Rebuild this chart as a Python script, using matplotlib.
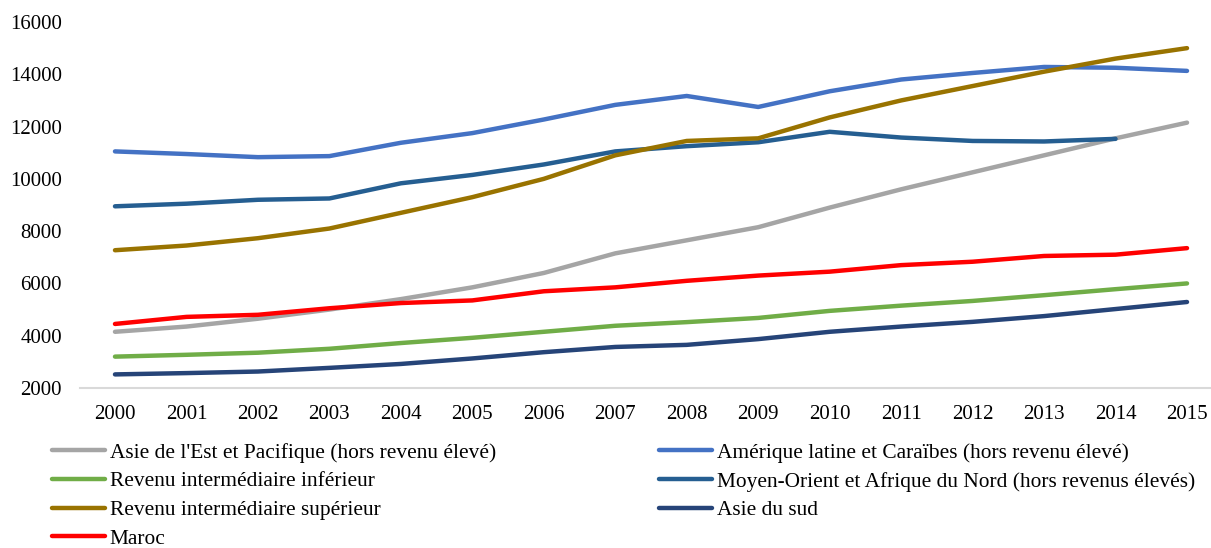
import matplotlib
matplotlib.use("Agg")
import matplotlib.pyplot as plt
from matplotlib.lines import Line2D
import numpy as np

years = list(range(2000, 2016))

asie_est = [4150, 4350, 4650, 5000, 5400, 5850, 6400, 7150, 7650, 8150, 8900, 9600, 10250, 10900, 11550, 12150]
amerique = [11050, 10950, 10830, 10870, 11380, 11750, 12270, 12830, 13170, 12750, 13350, 13800, 14050, 14280, 14250, 14130]
revenu_inf = [3200, 3270, 3350, 3500, 3720, 3920, 4150, 4380, 4520, 4680, 4950, 5150, 5330, 5550, 5780, 6000]
moyen_orient = [8950, 9050, 9200, 9250, 9830, 10150, 10550, 11050, 11250, 11400, 11800, 11580, 11450, 11430, 11530, None]
revenu_sup = [7270, 7450, 7730, 8100, 8700, 9300, 10000, 10900, 11450, 11550, 12350, 13000, 13550, 14100, 14600, 15000]
asie_sud = [2520, 2570, 2630, 2770, 2920, 3130, 3370, 3570, 3650, 3870, 4150, 4350, 4530, 4750, 5020, 5290]
maroc = [4450, 4720, 4800, 5050, 5250, 5350, 5700, 5850, 6100, 6300, 6450, 6700, 6830, 7050, 7100, 7350]

labels = {
    "asie_est": "Asie de l'Est et Pacifique (hors revenu élevé)",
    "amerique": "Amérique latine et Caraïbes (hors revenu élevé)",
    "revenu_inf": "Revenu intermédiaire inférieur",
    "moyen_orient": "Moyen-Orient et Afrique du Nord (hors revenus élevés)",
    "revenu_sup": "Revenu intermédiaire supérieur",
    "asie_sud": "Asie du sud",
    "maroc": "Maroc",
}
colors = {
    "asie_est": "#a5a5a5",
    "amerique": "#4472c4",
    "revenu_inf": "#70ad47",
    "moyen_orient": "#255e91",
    "revenu_sup": "#997300",
    "asie_sud": "#264478",
    "maroc": "#ff0000",
}
series = {
    "asie_est": asie_est,
    "amerique": amerique,
    "revenu_inf": revenu_inf,
    "moyen_orient": moyen_orient,
    "revenu_sup": revenu_sup,
    "asie_sud": asie_sud,
    "maroc": maroc,
}

plt.rcParams['font.family'] = ['Liberation Serif', 'DejaVu Serif']
FS = 15
LFS = 15.4

fig = plt.figure(figsize=(12.11, 5.48), dpi=100)
ax = fig.add_axes([80/1211, 1-388/548, 1-80/1211, (388-22)/548])

x = np.arange(len(years))
lw = 3.2
for key in ["asie_est", "amerique", "revenu_inf", "moyen_orient", "revenu_sup", "asie_sud", "maroc"]:
    vals = np.array([np.nan if v is None else v for v in series[key]], dtype=float)
    ax.plot(x, vals, color=colors[key], lw=lw, solid_capstyle='round', label=labels[key])

# category centres: 2000 at px 115, step 71.5 px; axes spans 80..1211
step = 71.5
ax.set_xlim(-(115-80)/step, 15 + (1211-1187)/step)
ax.set_ylim(2000, 16000)
ax.set_yticks(range(2000, 16001, 2000))
ax.set_xticks(x)
ax.set_xticklabels([str(y) for y in years])
ax.tick_params(axis='both', length=0, labelsize=FS, colors='black')
ax.tick_params(axis='x', pad=12)
ax.tick_params(axis='y', pad=13)
for s in ['top', 'right', 'left']:
    ax.spines[s].set_visible(False)
ax.spines['bottom'].set_color('#d9d9d9')
ax.spines['bottom'].set_linewidth(1.5)

def handle(key):
    return Line2D([0], [0], color=colors[key], lw=lw, solid_capstyle='round')

left_keys = ["asie_est", "revenu_inf", "revenu_sup", "maroc"]
right_keys = ["amerique", "moyen_orient", "asie_sud"]
common = dict(frameon=False, fontsize=LFS, handlelength=2.5, handletextpad=0.2,
              labelspacing=0.40, borderaxespad=0, borderpad=0)
leg1 = fig.legend([handle(k) for k in left_keys], [labels[k] for k in left_keys],
                  loc='upper left', bbox_to_anchor=(52/1211, 1-443/548), **common)
leg2 = fig.legend([handle(k) for k in right_keys], [labels[k] for k in right_keys],
                  loc='upper left', bbox_to_anchor=(659/1211, 1-443/548), **common)

fig.savefig("out.png", dpi=100)
